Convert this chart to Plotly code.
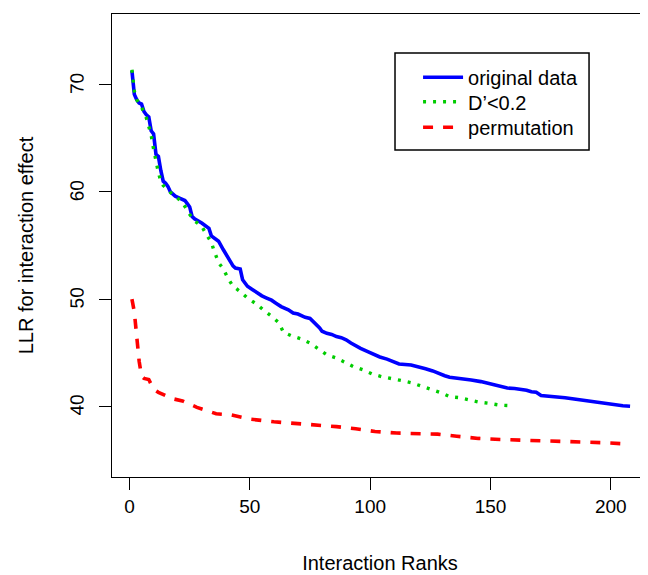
import plotly.graph_objects as go

# ---- data ----
orig_rank = [1, 2, 3, 4, 5, 6, 7, 8, 9, 10, 11, 12, 13, 14, 15, 16, 17, 19, 21, 23, 24, 25, 26, 27,
             30, 32, 33, 34, 36, 37, 39, 41, 43, 44, 46, 47, 48, 49, 51, 53, 55, 57, 59, 61, 63,
             66, 68, 70, 73, 75, 77, 79, 80, 82, 84, 86, 88, 90, 92, 94, 96, 99, 102, 104, 107,
             110, 112, 117, 120, 123, 126, 128, 131, 133, 138, 142, 146, 148, 152, 154, 157, 160,
             163, 165, 167, 169, 171, 175, 178, 181, 184, 187, 190, 192, 195, 198, 201, 203, 205, 208]
orig_llr = [71.3, 69.1, 68.6, 68.3, 68.2, 67.5, 67.2, 67.0, 65.7, 65.4, 63.5, 63.3, 62.0, 61.0, 60.8,
            60.5, 60.0, 59.6, 59.4, 59.2, 58.9, 58.6, 57.7, 57.5, 57.1, 56.8, 56.6, 55.9, 55.6, 55.4,
            54.6, 53.8, 53.1, 52.9, 52.8, 51.8, 51.5, 51.2, 50.9, 50.6, 50.3, 50.1, 49.9, 49.6, 49.3,
            49.0, 48.7, 48.6, 48.3, 48.2, 47.8, 47.3, 47.0, 46.8, 46.7, 46.5, 46.4, 46.2, 45.9, 45.6,
            45.4, 45.1, 44.8, 44.6, 44.4, 44.1, 43.95, 43.85, 43.7, 43.5, 43.3, 43.1, 42.85, 42.7,
            42.6, 42.45, 42.3, 42.2, 42.0, 41.85, 41.7, 41.65, 41.6, 41.5, 41.35, 41.3, 41.0, 40.95,
            40.9, 40.8, 40.7, 40.6, 40.5, 40.4, 40.3, 40.25, 40.15, 40.1, 40.05, 40.0]

dprime_rank = [1, 2, 3, 5, 7, 8, 9, 10, 11, 12, 13, 14, 16, 18, 20, 22, 24, 25, 27, 30, 32, 34, 35,
               37, 39, 41, 43, 46, 49, 53, 56, 59, 62, 64, 67, 71, 75, 79, 82, 86, 90, 93, 97, 101,
               105, 109, 113, 117, 121, 125, 129, 133, 137, 141, 145, 150, 154, 159]
dprime_llr = [71.4, 69.4, 68.6, 67.9, 66.9, 66.2, 65.3, 64.0, 62.8, 61.8, 61.0, 60.6, 60.2, 59.7,
              59.4, 59.0, 58.3, 57.9, 57.3, 56.8, 56.0, 55.3, 54.6, 53.4, 52.8, 51.9, 51.2, 50.7,
              50.1, 49.5, 48.9, 48.4, 47.8, 46.9, 46.6, 46.3, 45.9, 45.3, 44.8, 44.5, 44.0, 43.7,
              43.4, 43.0, 42.75, 42.6, 42.4, 42.2, 41.9, 41.6, 41.3, 40.9, 40.8, 40.6, 40.4, 40.25,
              40.1, 40.05]

perm_rank = [1, 2, 3, 4, 5, 6, 8, 10, 12, 15, 18, 22, 25, 28, 32, 36, 42, 46, 50, 60, 70, 78, 86,
             94, 102, 111, 120, 128, 136, 145, 154, 163, 171, 179, 188, 197, 205, 208]
perm_llr = [50.0, 48.8, 46.5, 44.2, 42.8, 42.6, 42.5, 41.6, 41.3, 41.0, 40.7, 40.5, 40.2, 39.9,
            39.6, 39.3, 39.2, 39.0, 38.8, 38.55, 38.4, 38.2, 38.1, 37.9, 37.65, 37.5, 37.45, 37.4,
            37.2, 37.0, 36.9, 36.85, 36.8, 36.7, 36.65, 36.6, 36.5, 36.45]

series_names = ["original data", "D\u2019<0.2", "permutation"]
x_ticks = [0, 50, 100, 150, 200]
y_ticks = [40, 50, 60, 70]
x_title = "Interaction Ranks"
y_title = "LLR for interaction effect"

FONT = "Liberation Sans, Arial, Helvetica, sans-serif"

fig = go.Figure()
fig.add_trace(go.Scatter(x=orig_rank, y=orig_llr, mode="lines", name=series_names[0],
                         line=dict(color="#0000FF", width=3.6), legend="legend"))
fig.add_trace(go.Scatter(x=dprime_rank, y=dprime_llr, mode="lines", name=series_names[1],
                         line=dict(color="#00CD00", width=3.4, dash="3px,7px"), legend="legend2"))
fig.add_trace(go.Scatter(x=perm_rank, y=perm_llr, mode="lines", name=series_names[2],
                         line=dict(color="#FF0000", width=3.6, dash="10px,10px"), legend="legend3"))

axis_common = dict(showgrid=False, zeroline=False, showline=True, linecolor="black", linewidth=1.3,
                   ticks="outside", ticklen=12, tickwidth=1.3, tickcolor="black", automargin=False,
                   tickfont=dict(family=FONT, size=19, color="black"))

leg_common = dict(xanchor="left", yanchor="middle", bgcolor="rgba(0,0,0,0)", borderwidth=0,
                  font=dict(family=FONT, size=20, color="black"), itemwidth=40)

fig.update_layout(
    # the page body adds an 8px offset, so the figure is sized to fit the window
    width=640, height=567,
    margin=dict(l=104, r=0, t=6, b=98),
    paper_bgcolor="white", plot_bgcolor="white",
    font=dict(family=FONT, color="black"),
    xaxis=dict(range=[-7.28, 215.45], tickvals=x_ticks, mirror=True,
               title=dict(text=x_title, font=dict(family=FONT, size=20), standoff=40),
               **axis_common),
    yaxis=dict(range=[33.4, 76.6], tickvals=y_ticks, tickangle=-89.9, mirror=False,
               ticklabelstandoff=21, ticklabelshift=-9,
               title=dict(text=y_title, font=dict(family=FONT, size=20), standoff=27),
               **axis_common),
    legend=dict(x=0.571, y=0.8633, **leg_common),
    legend2=dict(x=0.571, y=0.8106, **leg_common),
    legend3=dict(x=0.571, y=0.7553, **leg_common),
    showlegend=True,
    shapes=[dict(type="rect", xref="paper", yref="paper", x0=0.528, x1=0.89, y0=0.706, y1=0.916,
                 line=dict(color="black", width=1.5), fillcolor="white", layer="above")],
)

fig.write_html("out.html")
